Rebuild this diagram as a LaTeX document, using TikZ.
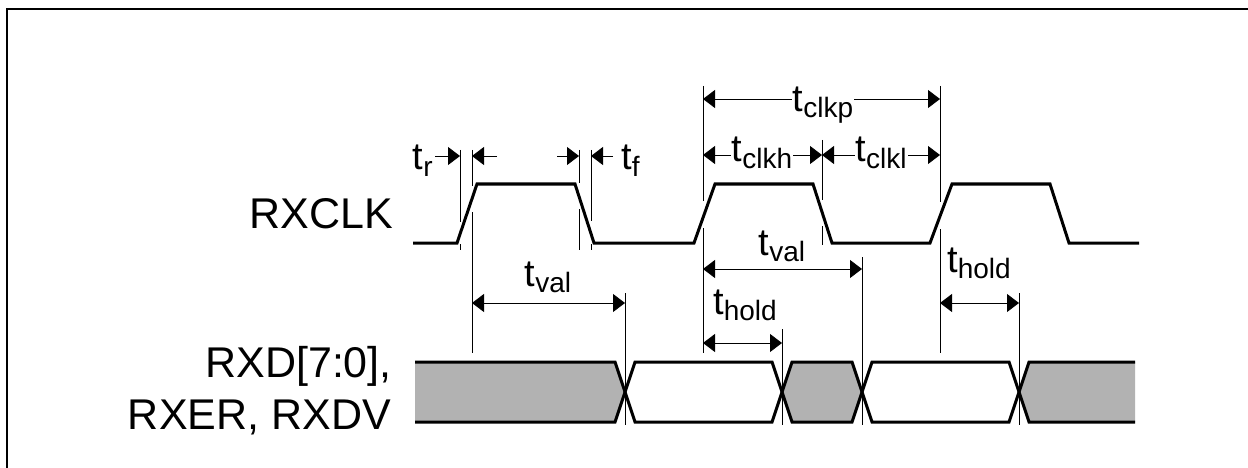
\documentclass[tikz,border=0pt]{standalone}
\usepackage{fontspec}
\setmainfont{Liberation Sans}
\usetikzlibrary{arrows.meta}
\newcommand{\tsub}[1]{t\raisebox{-6pt}{\fontsize{28}{28}\selectfont #1}}

\begin{document}
\begin{tikzpicture}[x=1pt, y=-1pt,
    sig/.style={line width=3pt},
    shade/.style={fill=black!30},
    refline/.style={line width=0.9pt},
    dim/.style={{Triangle[length=12pt,width=18pt]}-{Triangle[length=12pt,width=18pt]}, line width=0.9pt},
    single/.style={-{Triangle[length=12pt,width=18pt]}, line width=0.9pt},
    tlbl/.style={font=\fontsize{38}{38}\selectfont, inner sep=1pt, anchor=base},
    siglbl/.style={font=\fontsize{43}{43}\selectfont, inner sep=0pt, anchor=base east},
  ]
  \useasboundingbox (0,0) rectangle (1248,468);
  \draw[line width=1.6pt] (7,468) -- (7,9);
  \draw[line width=2.6pt] (6.2,9) -- (1248,9);

  % signal names
  \node[siglbl] (clkname)  at (393,228) {RXCLK};
  \node[siglbl] (dataname) at (392,377) {RXD[7:0],};
  \node[siglbl] (ctlname)  at (391,429) {RXER, RXDV};

  % clock
  \draw[sig] (413,243) -- (457,243) -- (477,184) -- (575,184) -- (594,243)
    -- (694,243) -- (715,184) -- (813,184) -- (832,243) -- (930,243)
    -- (952,184) -- (1050,184) -- (1069,243) -- (1139,243);

  % data bus
  \fill[shade] (415,362) -- (615,362) -- (625,392) -- (615,422) -- (415,422) -- cycle;
  \fill[shade] (782,392) -- (792,362) -- (852,362) -- (862,392) -- (852,422) -- (792,422) -- cycle;
  \fill[shade] (1019,392) -- (1029,362) -- (1135,362) -- (1135,422) -- (1029,422) -- cycle;
  \draw[sig] (415,362) -- (615,362) -- (635,422) -- (772,422) -- (792,362) -- (852,362)
    -- (872,422) -- (1009,422) -- (1029,362) -- (1135,362);
  \draw[sig] (415,422) -- (615,422) -- (635,362) -- (772,362) -- (792,422) -- (852,422)
    -- (872,362) -- (1009,362) -- (1029,422) -- (1135,422);

  % reference lines
  \draw[refline] (460,150) -- (460,222) (460,244) -- (460,250);
  \draw[refline] (472,150) -- (472,186) (472,212) -- (472,353);
  \draw[refline] (579,150) -- (579,183) (579,209) -- (579,250);
  \draw[refline] (591,150) -- (591,221) (591,244) -- (591,250);
  \draw[refline] (703,86) -- (703,201) (703,228) -- (703,353);
  \draw[refline] (822,140) -- (822,200) (822,226) -- (822,245);
  \draw[refline] (940,86) -- (940,202) (940,229) -- (940,353);
  \draw[refline] (625,293) -- (625,425);
  \draw[refline] (782,329) -- (782,425);
  \draw[refline] (862,257) -- (862,425);
  \draw[refline] (1019,293) -- (1019,425);

  % arrow ends
  \coordinate (r0) at (435,156);  \coordinate (r1) at (460,156);
  \coordinate (r2) at (497,156);  \coordinate (r3) at (472,156);
  \coordinate (f0) at (557,156);  \coordinate (f1) at (579,156);
  \coordinate (f2) at (613,156);  \coordinate (f3) at (591,156);
  \coordinate (p0) at (703,99);   \coordinate (p1) at (940,99);
  \coordinate (h0) at (703,155);  \coordinate (h1) at (822,155);
  \coordinate (l1) at (940,155);
  \coordinate (v0) at (472,303);  \coordinate (v1) at (625,303);
  \coordinate (w0) at (703,269);  \coordinate (w1) at (862,269);
  \coordinate (d0) at (703,343);  \coordinate (d1) at (782,343);
  \coordinate (e0) at (940,303);  \coordinate (e1) at (1019,303);

  % timing arrows
  \draw[single] (r0) -- (r1);
  \draw[single] (r2) -- (r3);
  \draw[single] (f0) -- (f1);
  \draw[single] (f2) -- (f3);
  \draw[dim] (p0) -- (p1);
  \draw[dim] (h0) -- (h1);
  \draw[dim] (h1) -- (l1);
  \draw[dim] (v0) -- (v1);
  \draw[dim] (w0) -- (w1);
  \draw[dim] (d0) -- (d1);
  \draw[dim] (e0) -- (e1);

  % timing labels
  \node[tlbl, anchor=base east] (tr) at (434,170) {\tsub{r}};
  \node[tlbl, anchor=base west] (tf) at (620,170) {\tsub{f}};
  \node[tlbl, fill=white] (tclkp) at (823,112) {\tsub{clkp}};
  \node[tlbl, fill=white] (tclkh) at (762,162) {\tsub{clkh}};
  \node[tlbl, fill=white] (tclkl) at (881,162) {\tsub{clkl}};
  \node[tlbl] (tval1)  at (548,286) {\tsub{val}};
  \node[tlbl] (tval2)  at (782,255) {\tsub{val}};
  \node[tlbl] (thold2) at (745,314) {\tsub{hold}};
  \node[tlbl] (thold3) at (979,272) {\tsub{hold}};
\end{tikzpicture}
\end{document}
